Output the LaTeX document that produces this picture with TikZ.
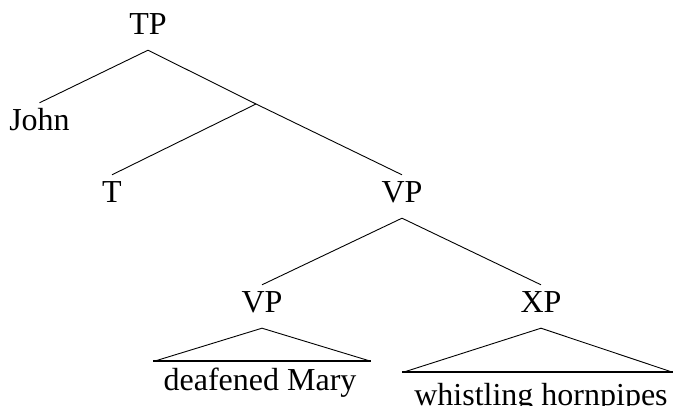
\documentclass[tikz,border=0pt]{standalone}
\usepackage{fontspec}
\setmainfont{Liberation Serif}
\begin{document}
\begin{tikzpicture}[x=1pt,y=-1pt,
  cat/.style={anchor=base,inner xsep=0pt,inner ysep=8pt,text height=20pt,text depth=7pt,font=\fontsize{32}{38}\selectfont},
  words/.style={anchor=base,inner sep=0pt,font=\fontsize{32}{38}\selectfont},
  branch/.style={line width=0.9pt},
  base/.style={line width=2.4pt}]
  \useasboundingbox (0,0) rectangle (673,406);
  % category labels
  \node[cat] (TP)   at (148,35)  {TP};
  \node[cat] (John) at (39.5,131) {John};
  \coordinate (Tbar) at (256,104);
  \node[cat] (T)    at (112,203) {T};
  \node[cat] (VP)   at (402,203) {VP};
  \node[cat] (VPl)  at (262,313) {VP};
  \node[cat] (XP)   at (541,313) {XP};
  % branches
  \draw[branch] (TP.south) -- (John.north);
  \draw[branch] (TP.south) -- (Tbar) -- (VP.north);
  \draw[branch] (Tbar) -- (T.north);
  \draw[branch] (VP.south) -- (VPl.north);
  \draw[branch] (VP.south) -- (XP.north);
  % triangles over unanalysed phrases
  \coordinate (vl) at (155,361);
  \coordinate (vr) at (370,361);
  \draw[branch] (vl) -- (VPl.south) -- (vr);
  \draw[base] ([xshift=-2pt]vl) -- ([xshift=1pt]vr);
  \node[words] (dm) at (260,391) {deafened Mary};
  \coordinate (xl) at (404,372);
  \coordinate (xr) at (672,372);
  \draw[branch] (xl) -- (XP.south) -- (xr);
  \draw[base] ([xshift=-2pt]xl) -- ([xshift=1pt]xr);
  \node[words] (wh) at (541,406) {whistling hornpipes};
\end{tikzpicture}
\end{document}
